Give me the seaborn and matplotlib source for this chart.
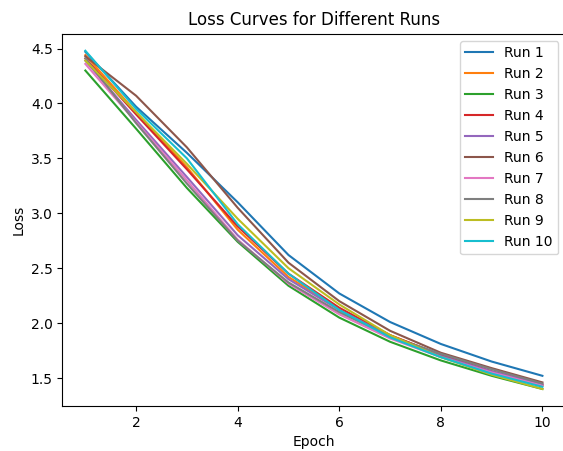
import matplotlib
matplotlib.use("Agg")
import matplotlib.pyplot as plt
import seaborn as sns
import pandas as pd

epochs = [1, 2, 3, 4, 5, 6, 7, 8, 9, 10]
run1 = [4.47, 3.97, 3.55, 3.10, 2.62, 2.27, 2.01, 1.81, 1.65, 1.52]
run2 = [4.44, 3.92, 3.42, 2.85, 2.42, 2.13, 1.89, 1.71, 1.56, 1.43]
run3 = [4.30, 3.77, 3.23, 2.74, 2.34, 2.05, 1.83, 1.66, 1.52, 1.40]
run4 = [4.41, 3.90, 3.40, 2.88, 2.45, 2.14, 1.89, 1.71, 1.56, 1.44]
run5 = [4.39, 3.85, 3.33, 2.80, 2.40, 2.12, 1.88, 1.70, 1.56, 1.44]
run6 = [4.43, 4.07, 3.60, 3.05, 2.55, 2.20, 1.93, 1.73, 1.59, 1.46]
run7 = [4.36, 3.83, 3.30, 2.76, 2.36, 2.08, 1.86, 1.69, 1.55, 1.43]
run8 = [4.41, 3.82, 3.27, 2.75, 2.37, 2.10, 1.88, 1.72, 1.58, 1.45]
run9 = [4.39, 3.92, 3.45, 2.95, 2.50, 2.17, 1.89, 1.69, 1.53, 1.40]
run10 = [4.48, 3.95, 3.50, 2.90, 2.45, 2.12, 1.87, 1.69, 1.54, 1.42]
runs = [run1, run2, run3, run4, run5, run6, run7, run8, run9, run10]
labels = [f"Run {i}" for i in range(1, 11)]

rows = []
for lab, vals in zip(labels, runs):
    for e, v in zip(epochs, vals):
        rows.append({"Epoch": e, "Loss": v, "Run": lab})
df = pd.DataFrame(rows)

fig, ax = plt.subplots(figsize=(5.63, 4.51), dpi=100)
sns.lineplot(data=df, x="Epoch", y="Loss", hue="Run", palette="tab10", ax=ax)
ax.set_title("Loss Curves for Different Runs")
ax.set_xlabel("Epoch")
ax.set_ylabel("Loss")
ax.legend(loc="upper right")
fig.subplots_adjust(left=0.111, right=1.004, top=0.925, bottom=0.1)
fig.savefig("out.png", dpi=100)
